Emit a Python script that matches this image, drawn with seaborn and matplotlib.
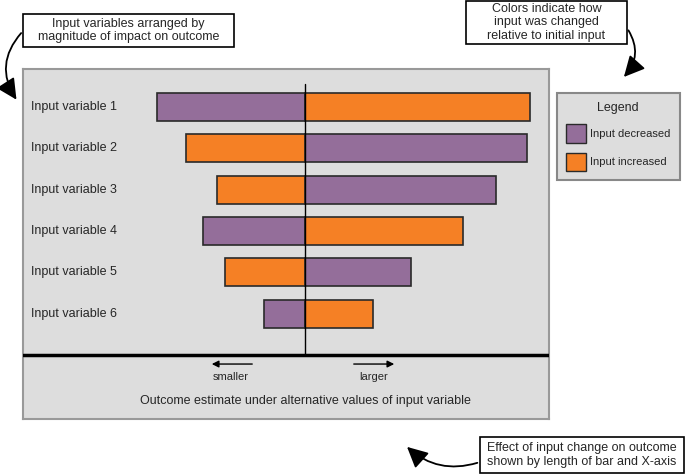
import seaborn as sns
import matplotlib.pyplot as plt
import pandas as pd
from matplotlib.patches import Patch, Rectangle, FancyArrowPatch

sns.set_style("white")
plt.rcParams['font.family'] = ['Liberation Sans', 'DejaVu Sans']

# Tornado chart data (outcome change relative to baseline)
variables = ["Input variable 1", "Input variable 2", "Input variable 3",
             "Input variable 4", "Input variable 5", "Input variable 6"]
left_values = [-14.8, -11.9, -8.8, -10.2, -8.0, -4.1]
right_values = [22.5, 22.2, 19.1, 15.8, 10.6, 6.8]
left_change = ["Input decreased", "Input increased", "Input increased",
               "Input decreased", "Input increased", "Input decreased"]
right_change = ["Input increased", "Input decreased", "Input decreased",
                "Input increased", "Input decreased", "Input increased"]

PURPLE = "#946e9a"
ORANGE = "#f58025"
GREY = "#dddddd"
palette = {"Input decreased": PURPLE, "Input increased": ORANGE}

df = pd.DataFrame({
    "variable": variables * 2,
    "value": left_values + right_values,
    "change": left_change + right_change,
})

W, H = 685, 476
fig = plt.figure(figsize=(W / 100, H / 100), dpi=100)


def fx(x):
    return x / W


def fy(y):
    return 1 - y / H


# main panel axes
ax = fig.add_axes([fx(23), fy(419), fx(549) - fx(23), fy(69) - fy(419)])
ax.set_facecolor(GREY)

sns.barplot(data=df, x="value", y="variable", hue="change", palette=palette,
            orient="h", width=0.68, dodge=False, saturation=1,
            edgecolor="#2a2a2a", linewidth=1.2, legend=False, ax=ax)

ax.set_xlim(-28.2, 24.4)
ax.set_ylim(7.55, -0.92)
ax.set_xticks([])
ax.set_yticks([])
ax.set_xlabel("")
ax.set_ylabel("")
for s in ax.spines.values():
    s.set_color("#999999")
    s.set_linewidth(1.5)

ax.plot([0, 0], [-0.56, 6.0], color="black", lw=1, zorder=5)
ax.axhline(6.0, color="black", lw=2.5, zorder=5)

for i, name in enumerate(variables):
    ax.text(0.015, i, name, transform=ax.get_yaxis_transform(),
            ha="left", va="center", fontsize=9)

ax.annotate("", xy=(-9.6, 6.22), xytext=(-5.0, 6.22),
            arrowprops=dict(arrowstyle="-|>", color="black", lw=1, mutation_scale=10))
ax.annotate("", xy=(9.2, 6.22), xytext=(4.6, 6.22),
            arrowprops=dict(arrowstyle="-|>", color="black", lw=1, mutation_scale=10))
ax.text(-7.4, 6.53, "smaller", ha="center", va="center", fontsize=8)
ax.text(6.9, 6.53, "larger", ha="center", va="center", fontsize=8)
ax.text(0, 7.12, "Outcome estimate under alternative values of input variable",
        ha="center", va="center", fontsize=9)

# legend box
handles = [Patch(facecolor=PURPLE, edgecolor="#2a2a2a", label="Input decreased"),
           Patch(facecolor=ORANGE, edgecolor="#2a2a2a", label="Input increased")]
leg = fig.legend(handles=handles, title="Legend", loc="upper left",
                 bbox_to_anchor=(fx(557), fy(93)), borderaxespad=0,
                 fontsize=8, title_fontsize=9, fancybox=False,
                 facecolor=GREY, edgecolor="#888888", framealpha=1,
                 handlelength=1.85, handleheight=2.2, handletextpad=0.35,
                 labelspacing=0.9, borderpad=0.8)
leg.get_frame().set_linewidth(1.5)


# callout boxes with curved arrows
def callout(x0, y0, x1, y1, text):
    fig.add_artist(Rectangle((fx(x0), fy(y1)), fx(x1) - fx(x0), fy(y0) - fy(y1),
                             transform=fig.transFigure, facecolor="white",
                             edgecolor="black", lw=1.2))
    fig.text(fx((x0 + x1) / 2), fy((y0 + y1) / 2), text, ha="center",
             va="center", fontsize=9, linespacing=1.15)


callout(23, 14, 234, 47, "Input variables arranged by\nmagnitude of impact on outcome")
callout(466, 1, 627, 44, "Colors indicate how\ninput was changed\nrelative to initial input")
callout(480, 437, 684, 473, "Effect of input change on outcome\nshown by length of bar and X-axis")

arrow = dict(arrowstyle="-|>,head_length=0.7,head_width=0.35", color="black",
             lw=1.3, mutation_scale=18)
fig.add_artist(FancyArrowPatch(
    (fx(23), fy(31)), (fx(18), fy(102)), transform=fig.transFigure,
    connectionstyle="arc3,rad=0.4", **arrow))
fig.add_artist(FancyArrowPatch(
    (fx(627), fy(28)), (fx(622), fy(79)), transform=fig.transFigure,
    connectionstyle="arc3,rad=-0.4", **arrow))
fig.add_artist(FancyArrowPatch(
    (fx(480), fy(462)), (fx(405), fy(445)), transform=fig.transFigure,
    connectionstyle="arc3,rad=-0.3", **arrow))

plt.savefig("out.png", dpi=100)
plt.close()
